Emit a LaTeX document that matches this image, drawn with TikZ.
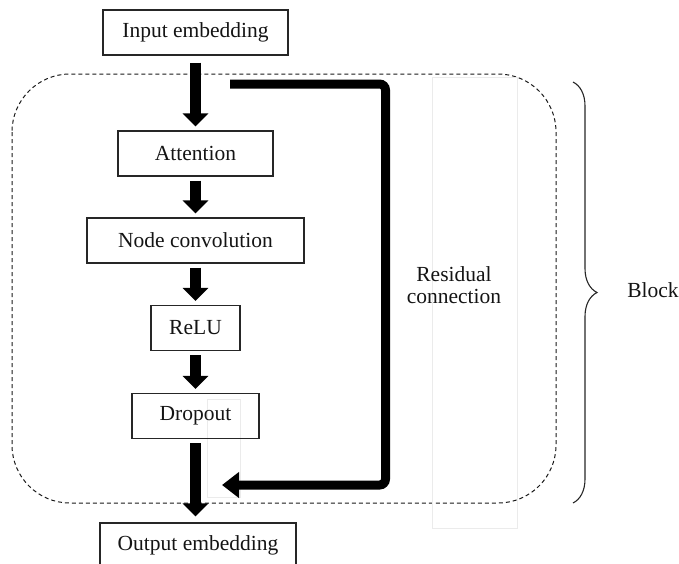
\documentclass[tikz,border=0pt]{standalone}
\usepackage{fontspec}
\setmainfont{Liberation Serif}
\usetikzlibrary{arrows.meta,decorations.pathreplacing}

\begin{document}
\begin{tikzpicture}[x=1pt,y=-1pt,
  layerbox/.style={draw=black!85,line width=1.2pt,minimum height=45pt,inner sep=0pt,
    font=\fontsize{21.5}{22}\selectfont,text=black!92},
  flow/.style={line width=11pt,-{Triangle[width=25pt,length=13pt]},shorten <=4pt,shorten >=4pt},
  resid/.style={line width=9pt,rounded corners=6pt,-{Triangle[width=25pt,length=17pt]}},
  blockline/.style={draw=black!90,line width=1pt,dash pattern=on 4pt off 3pt},
  faint/.style={draw=black!8,line width=0.6pt},
  plain/.style={font=\fontsize{21.5}{22}\selectfont,text=black!92,align=center}]
\useasboundingbox (0,0) rectangle (679,563);
% block outline and stray text frames
\draw[blockline,rounded corners=58pt] (12,74) rectangle (556,503);
\draw[faint] (432,77) rectangle (517,528);
\draw[faint] (207,399) rectangle (240,497);
% layers
\node[layerbox,minimum width=185pt] (inp) at (195.5,32.5) {Input embedding};
\node[layerbox,minimum width=155pt] (att) at (195.5,153.5) {Attention};
\node[layerbox,minimum width=217pt] (conv) at (195.5,240.5) {Node convolution};
\node[layerbox,minimum width=89pt] (relu) at (195.5,328) {ReLU};
\node[layerbox,minimum width=127pt] (drop) at (195.5,416) {Dropout};
\node[layerbox,minimum width=196pt] (out) at (198,545.5) {Output embedding};
\draw[flow,shorten <=7pt] (inp) -- (att);
\draw[flow] (att) -- (conv);
\draw[flow] (conv) -- (relu);
\draw[flow] (relu) -- (drop);
\draw[flow,shorten >=6pt] (drop.south) -- (drop.south |- out.north);
% skip path
\coordinate (rs) at (230,84);
\coordinate (rc) at (385.5,485);
\coordinate (re) at (222,485);
\draw[resid] (rs) -| (rc) -- (re);
\node[plain] (restext) at (454,285) {Residual\\connection};
% brace
\draw[black!85,line width=1.1pt,decorate,decoration={brace,amplitude=24pt}] (573,82) -- (573,503);
\node[plain] (blk) at (653,290) {Block};
\end{tikzpicture}
\end{document}
